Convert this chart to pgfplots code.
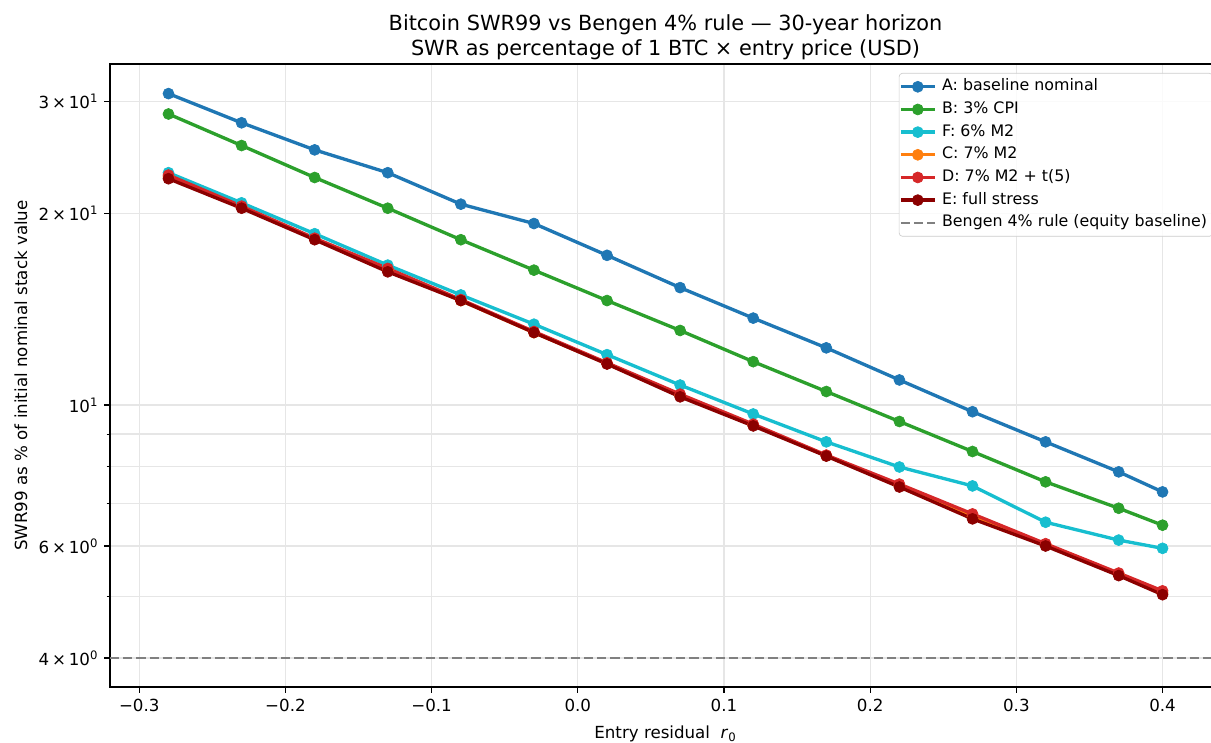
\documentclass[border=0pt]{standalone}
\usepackage{fontspec}
\setmainfont{DejaVu Sans}
\usepackage{pgfplots}
\pgfplotsset{compat=1.18}
\usetikzlibrary{calc}

\definecolor{cA}{HTML}{1F77B4}
\definecolor{cB}{HTML}{2CA02C}
\definecolor{cF}{HTML}{17BECF}
\definecolor{cC}{HTML}{FF7F0E}
\definecolor{cD}{HTML}{D62728}
\definecolor{cE}{HTML}{8B0000}
\definecolor{gridc}{RGB}{230,230,230}
\definecolor{legc}{RGB}{204,204,204}

\pgfplotsset{
    swr/.style={line width=2pt, mark=*, mark size=3.3pt, mark options={solid, line width=0.4pt}},
}

\begin{document}
\begin{tikzpicture}
\begin{axis}[
    scale only axis,
    width=666.6pt, height=373.8pt,
    ymode=log,
    xmin=-0.32, xmax=0.44,
    ymin=3.6, ymax=34.4,
    xtick={-0.3,-0.2,-0.1,0,0.1,0.2,0.3,0.4},
    xticklabels={−0.3,−0.2,−0.1,0.0,0.1,0.2,0.3,0.4},
    ytick={4,6,10,20,30},
    yticklabels={4\,×\,10\textsuperscript{0},6\,×\,10\textsuperscript{0},10\textsuperscript{1},2\,×\,10\textsuperscript{1},3\,×\,10\textsuperscript{1}},
    minor ytick={5,7,8,9},
    grid=both,
    major grid style={gridc, line width=0.8pt},
    minor grid style={gridc, line width=0.8pt},
    tick align=outside,
    xtick pos=bottom, ytick pos=left,
    major tick length=3.5pt, minor tick length=2pt,
    every tick/.style={black, line width=0.8pt},
    every minor tick/.style={black, line width=0.6pt},
    axis line style={line width=0.8pt},
    ticklabel style={font=\fontsize{10}{12}\selectfont},
    label style={font=\fontsize{10}{12}\selectfont},
    xlabel={Entry residual\ \ \textit{r}\textsubscript{0}},
    xlabel style={yshift=-2pt},
    ylabel={SWR99 as \% of initial nominal stack value},
    title={Bitcoin SWR99 vs Bengen 4\% rule — 30-year horizon\\SWR as percentage of 1 BTC × entry price (USD)},
    title style={align=center, font=\fontsize{12.5}{15}\selectfont, yshift=-7.2pt},
    legend style={at={(0.9928,0.9856)}, anchor=north east,
        draw=legc, rounded corners=2pt, fill=white, fill opacity=0.8, text opacity=1,
        font=\fontsize{9.5}{11.5}\selectfont,
        inner xsep=0pt, inner ysep=3.6pt, row sep=4.6pt,
        nodes={inner xsep=3.4pt, inner ysep=0pt, text height=7pt, text depth=2pt}},
    legend cell align=left,
    legend image code/.code={\draw[mark repeat=2,mark phase=2,#1,fill opacity=1,draw opacity=1] plot coordinates {(0pt,0pt) (10.2pt,0pt) (20.4pt,0pt)};},
]
\addplot[swr, cA] table {
x y
-0.28 30.9
-0.23 27.8
-0.18 25.2
-0.13 23.2
-0.08 20.7
-0.03 19.3
0.02 17.2
0.07 15.3
0.12 13.7
0.17 12.3
0.22 10.95
0.27 9.76
0.32 8.75
0.37 7.85
0.40 7.30
};
\addlegendentry{A: baseline nominal}
\addplot[swr, cB] table {
x y
-0.28 28.7
-0.23 25.6
-0.18 22.8
-0.13 20.4
-0.08 18.2
-0.03 16.3
0.02 14.6
0.07 13.1
0.12 11.7
0.17 10.5
0.22 9.42
0.27 8.45
0.32 7.57
0.37 6.88
0.40 6.47
};
\addlegendentry{B: 3\% CPI}
\addplot[swr, cF] table {
x y
-0.28 23.2
-0.23 20.8
-0.18 18.6
-0.13 16.6
-0.08 14.9
-0.03 13.4
0.02 12.0
0.07 10.75
0.12 9.68
0.17 8.75
0.22 7.99
0.27 7.46
0.32 6.54
0.37 6.13
0.40 5.95
};
\addlegendentry{F: 6\% M2}
\addplot[swr, cC] table {
x y
-0.28 22.85
-0.23 20.5
-0.18 18.25
-0.13 16.3
-0.08 14.6
-0.03 13.0
0.02 11.62
0.07 10.35
0.12 9.30
0.17 8.32
0.22 7.47
0.27 6.68
0.32 6.02
0.37 5.41
0.40 5.06
};
\addlegendentry{C: 7\% M2}
\addplot[swr, cD] table {
x y
-0.28 23.0
-0.23 20.55
-0.18 18.3
-0.13 16.4
-0.08 14.65
-0.03 13.05
0.02 11.65
0.07 10.4
0.12 9.33
0.17 8.34
0.22 7.51
0.27 6.74
0.32 6.05
0.37 5.44
0.40 5.10
};
\addlegendentry{D: 7\% M2 + t(5)}
\addplot[swr, cE] table {
x y
-0.28 22.7
-0.23 20.4
-0.18 18.2
-0.13 16.2
-0.08 14.6
-0.03 13.0
0.02 11.6
0.07 10.3
0.12 9.27
0.17 8.31
0.22 7.43
0.27 6.62
0.32 6.00
0.37 5.39
0.40 5.03
};
\addlegendentry{E: full stress}
\addplot[gray, line width=1.5pt, dash pattern=on 5.5pt off 2.4pt] coordinates {(-0.32,4) (0.44,4)};
\addlegendentry{Bengen 4\% rule (equity baseline)}
\end{axis}
\pgfresetboundingbox
\path ($(current axis.south west)+(-66pt,-33pt)$) rectangle ($(current axis.north east)+(-6pt,38.4pt)$);
\end{tikzpicture}
\end{document}
